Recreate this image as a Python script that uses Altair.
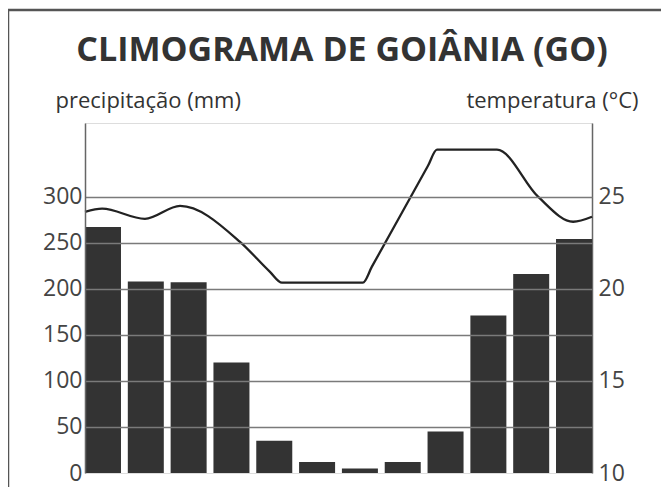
import altair as alt
import pandas as pd

FONT = "Open Sans"

months = list(range(1, 13))
precip = [267, 208, 207, 120, 35, 12, 5, 12, 45, 171, 216, 254]

# temperature curve vertices (position in month units, °C)
line_pos = [0.58, 0.98, 1.98, 2.80, 4.20, 4.90, 5.18, 7.07, 7.28, 8.59, 8.80, 10.20, 11.16, 11.98, 12.42]
line_temp = [24.18, 24.35, 23.80, 24.50, 22.55, 20.92, 20.33, 20.33, 21.2, 26.68, 27.55, 27.55, 25.0, 23.64, 23.91]

precip_ticks = [0, 50, 100, 150, 200, 250, 300]
temp_ticks = [10, 15, 20, 25]

title_text = "CLIMOGRAMA DE GOIÂNIA (GO)"

bars_df = pd.DataFrame({"month": months, "precip": precip})
line_df = pd.DataFrame({"month": line_pos, "temp": line_temp})

xscale = alt.Scale(domain=[0.58, 12.42], nice=False, zero=False, padding=0)

bars = alt.Chart(bars_df).mark_bar(size=36, color="#333333").encode(
    x=alt.X("month:Q", scale=xscale,
            axis=alt.Axis(orient="top", labels=False, ticks=False, grid=False,
                          title=None, domainColor="#666666", domainWidth=1.5)),
    y=alt.Y("precip:Q", scale=alt.Scale(domain=[0, 380], nice=False, padding=0),
            axis=alt.Axis(orient="left", values=precip_ticks, grid=True,
                          gridColor="#7a7a7a", gridWidth=1.6,
                          gridOpacity=alt.condition("datum.value == 0", alt.value(0), alt.value(1)),
                          ticks=False, domain=True, domainColor="#666666", domainWidth=1.5,
                          labelFont=FONT, labelFontSize=23, labelColor="#444444",
                          labelPadding=3,
                          title="precipitação (mm)", titleAngle=0, titleAlign="left",
                          titleBaseline="alphabetic", titleX=-30, titleY=-16,
                          titleFont=FONT, titleFontSize=22, titleFontWeight="normal",
                          titleColor="#333333", zindex=1)),
)

line = alt.Chart(line_df).mark_line(color="#222222", strokeWidth=2.3, interpolate="monotone").encode(
    x=alt.X("month:Q", scale=xscale, axis=None),
    y=alt.Y("temp:Q", scale=alt.Scale(domain=[10, 29], nice=False, zero=False),
            axis=alt.Axis(orient="right", values=temp_ticks, grid=False,
                          ticks=False, domain=True, domainColor="#666666", domainWidth=1.5,
                          labelFont=FONT, labelFontSize=23, labelColor="#444444",
                          labelPadding=6,
                          title="temperatura (°C)", titleAngle=0, titleAlign="right",
                          titleBaseline="alphabetic", titleX=46, titleY=-16,
                          titleFont=FONT, titleFontSize=22, titleFontWeight="normal",
                          titleColor="#333333")),
)

border = alt.Chart(pd.DataFrame({"k": [0]})).mark_rect(
    filled=False, stroke="#555555", strokeWidth=2.5
).encode(x=alt.value(-77), x2=alt.value(620), y=alt.value(-113), y2=alt.value(420))

title = alt.Chart(pd.DataFrame({"t": [title_text]})).mark_text(
    font=FONT, fontSize=34, fontWeight="bold", color="#333333",
    align="center", baseline="alphabetic"
).encode(x=alt.value(257), y=alt.value(-62), text="t:N")

chart = alt.layer(border, title, bars, line).resolve_scale(y="independent").properties(
    width=507, height=350,
    autosize=alt.AutoSizeParams(type="none"),
    padding={"left": 77, "top": 115, "right": 69, "bottom": 14},
).configure_view(stroke=None).configure(background="white")

chart.save("out.html", embed_options={"renderer": "svg", "actions": False})
